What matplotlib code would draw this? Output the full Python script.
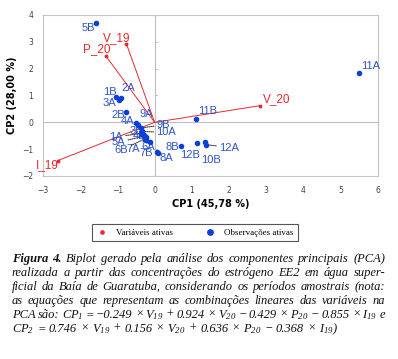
import matplotlib
matplotlib.use('Agg')
import matplotlib.pyplot as plt

plt.rcParams['mathtext.fontset'] = 'custom'
plt.rcParams['mathtext.rm'] = 'Liberation Serif:italic'
plt.rcParams['mathtext.it'] = 'Liberation Serif:italic'

# observacoes (scores CP1, CP2)
obs_names = ['1A', '2A', '3A', '4A', '5A', '6A', '7A', '8A', '9A', '10A', '11A', '12A',
             '1B', '2B', '3B', '4B', '5B', '6B', '7B', '8B', '9B', '10B', '11B', '12B']
obs_cp1 = [-0.36, -0.90, -0.96, -0.51, -0.30, -0.13, -0.22, 0.09, -0.45, -0.33, 5.48, 1.38,
           -1.03, -0.76, -0.29, -0.24, -1.57, -0.27, 0.07, 0.70, -0.38, 1.34, 1.11, 1.15]
obs_cp2 = [-0.42, 0.90, 0.85, -0.02, -0.52, -0.73, -0.64, -1.15, -0.09, -0.34, 1.84, -0.83,
           0.93, 0.39, -0.46, -0.56, 3.71, -0.62, -1.12, -0.87, -0.21, -0.75, 0.14, -0.78]

# variaveis (vetores)
var_names = ['V_19', 'V_20', 'P_20', 'I_19']
var_cp1 = [-0.76, 2.82, -1.32, -2.61]
var_cp2 = [2.93, 0.62, 2.49, -1.43]

xticks = [-3, -2, -1, 0, 1, 2, 3, 4, 5, 6]
yticks = [-2, -1, 0, 1, 2, 3, 4]

# posicao dos rotulos (pixels, relativo ao ponto) e quais levam linha guia
lab_off = {
    '5B': (-8, -5), '2A': (7, 10), '1B': (-6, 5), '3A': (-10, -3), '2B': (-8, -3),
    '9A': (8, 11), '4A': (-8, 2), '9B': (23, 3), '10A': (24, -1), '3B': (-7, 4),
    '4B': (-6, 1), '1A': (-25, -3), '5A': (-25, -6), '6B': (-23, -11), '7A': (-13, -9),
    '6A': (-2, -5), '7B': (-11, -1), '8A': (8, -5), '8B': (-8, -1), '12B': (-7, -12),
    '10B': (6, -18), '12A': (23, -3), '11B': (12, 8), '11A': (12, 7),
    'V_19': (-10, 6), 'P_20': (-9, 6), 'V_20': (17, 7), 'I_19': (-10, -4),
}
leaders = ['9B', '10A', '1A', '5A', '6B', '7A', '12A']

RED = '#e8282e'
BLUE = '#0b3fd8'
LBLUE = '#2e55c8'

fig = plt.figure(figsize=(3.98, 3.59), dpi=100)
W, H = 398, 359
ax = fig.add_axes([43 / W, 1 - 176 / H, (378 - 43) / W, (176 - 15) / H])
ax.set_xlim(-3, 6)
ax.set_ylim(-2, 4)
for s in ax.spines.values():
    s.set_color('#c4c4c4')
    s.set_linewidth(0.8)
ax.axhline(0, color='#bdbdbd', lw=0.8, zorder=0)
ax.axvline(0, color='#bdbdbd', lw=0.8, zorder=0)
for yt in yticks:
    if yt != 0:
        ax.plot([0, 0.07], [yt, yt], color='#bdbdbd', lw=0.7, zorder=0)

ax.set_xticks(xticks)
ax.set_yticks(yticks)
ax.tick_params(length=0, labelsize=5.5, labelcolor='#404040')
ax.tick_params(axis='x', pad=7)
ax.tick_params(axis='y', pad=7)
ax.set_xlabel('CP1 (45,78 %)', fontsize=7, fontweight='bold', labelpad=3)
ax.set_ylabel('CP2 (28,00 %)', fontsize=7, fontweight='bold', labelpad=4)

# vetores das variaveis
for n, x, y in zip(var_names, var_cp1, var_cp2):
    ax.plot([0, x], [0, y], color=RED, lw=0.7, zorder=2)
ax.plot(var_cp1, var_cp2, ls='', marker='o', ms=1.8, color=RED, zorder=3,
        label='Variáveis ativas')
for n, x, y in zip(var_names, var_cp1, var_cp2):
    ax.annotate(n, (x, y), xytext=lab_off[n], textcoords='offset pixels',
                ha='center', va='center', fontsize=8.5, color=RED,
                family='Liberation Sans')

# observacoes
ax.plot(obs_cp1, obs_cp2, ls='', marker='o', ms=3, color=BLUE, zorder=4,
        label='Observações ativas')
for n, x, y in zip(obs_names, obs_cp1, obs_cp2):
    kw = {}
    if n in leaders:
        kw['arrowprops'] = dict(arrowstyle='-', ls=(0, (1, 1)), color='#222222', lw=0.7,
                                shrinkA=0, shrinkB=1)
    ax.annotate(n, (x, y), xytext=lab_off[n], textcoords='offset pixels',
                ha='center', va='center', fontsize=8, color=LBLUE,
                family='Liberation Sans', **kw)

h, l = ax.get_legend_handles_labels()
leg = fig.legend(h, l, ncol=2, loc='center', bbox_to_anchor=(195 / W, 1 - 232.5 / H),
                 frameon=True, fancybox=False, edgecolor='#555555', framealpha=1,
                 prop={'family': 'Liberation Serif', 'size': 6.5}, markerscale=1.3,
                 handlelength=1.2, handletextpad=1.0, columnspacing=3.5,
                 borderpad=0.5)
leg.get_frame().set_linewidth(0.8)

# legenda da figura (texto justificado)
cap_lines = [
    [('Figura', True), ('4.', True), ('Biplot', False), ('gerado', False), ('pela', False),
     ('análise', False), ('dos', False), ('componentes', False), ('principais', False),
     ('(PCA)', False)],
    'realizada a partir das concentrações do estrógeno EE2 em água super-',
    'ficial da Baía de Guaratuba, considerando os períodos amostrais (nota:',
    'as equações que representam as combinações lineares das variáveis na',
    'PCA são: $CP_1$ = −0.249 × $V_{19}$ + 0.924 × $V_{20}$ − 0.429 × $P_{20}$ − 0.855 × $I_{19}$ e',
    '$CP_2$ = 0.746 × $V_{19}$ + 0.156 × $V_{20}$ + 0.636 × $P_{20}$ − 0.368 × $I_{19}$)',
]
fig.canvas.draw()
r = fig.canvas.get_renderer()
x0, x1 = 12, 385
fs = 9.0
space = fs * 0.25 * 100 / 72

for i, line in enumerate(cap_lines):
    if isinstance(line, str):
        toks = [(w, False) for w in line.split(' ')]
    else:
        toks = line
    yb = 1 - (262 + 14 * i) / H
    texts = [fig.text(0, yb, w, fontsize=fs, family='Liberation Serif', style='italic',
                      fontweight='bold' if b else 'normal', va='baseline', color='#111111')
             for w, b in toks]
    widths = [t.get_window_extent(r).width for t in texts]
    if i < len(cap_lines) - 1:
        gap = (x1 - x0 - sum(widths)) / (len(texts) - 1)
    else:
        gap = space
    x = x0
    for t, w in zip(texts, widths):
        t.set_x(x / W)
        x += w + gap

fig.savefig('out.png', dpi=100)
